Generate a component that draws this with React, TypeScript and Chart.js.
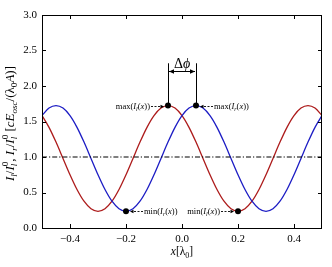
import React, { useEffect, useRef } from "react";
import { Chart, registerables } from "chart.js";

Chart.register(...registerables);

// ---- data ----
const positions = [
  -0.5, -0.475, -0.45, -0.425, -0.4, -0.375, -0.35, -0.325, -0.3, -0.275,
  -0.25, -0.225, -0.2, -0.175, -0.15, -0.125, -0.1, -0.075, -0.05, -0.025,
  0.0, 0.025, 0.05, 0.075, 0.1, 0.125, 0.15, 0.175, 0.2, 0.225,
  0.25, 0.275, 0.3, 0.325, 0.35, 0.375, 0.4, 0.425, 0.45, 0.475, 0.5,
];
const intensityL = [
  1.583, 1.418, 1.21, 0.98, 0.75, 0.542, 0.377, 0.271, 0.235, 0.271,
  0.377, 0.542, 0.75, 0.98, 1.21, 1.418, 1.583, 1.689, 1.725, 1.689,
  1.583, 1.418, 1.21, 0.98, 0.75, 0.542, 0.377, 0.271, 0.235, 0.271,
  0.377, 0.542, 0.75, 0.98, 1.21, 1.418, 1.583, 1.689, 1.725, 1.689, 1.583,
];
const intensityR = [
  1.583, 1.689, 1.725, 1.689, 1.583, 1.418, 1.21, 0.98, 0.75, 0.542,
  0.377, 0.271, 0.235, 0.271, 0.377, 0.542, 0.75, 0.98, 1.21, 1.418,
  1.583, 1.689, 1.725, 1.689, 1.583, 1.418, 1.21, 0.98, 0.75, 0.542,
  0.377, 0.271, 0.235, 0.271, 0.377, 0.542, 0.75, 0.98, 1.21, 1.418, 1.583,
];
const referenceLevel = 1.0;
const extremaX = [-0.05, 0.05, -0.2, 0.2];
const extremaY = [1.725, 1.725, 0.235, 0.235];
// which side each annotation label sits on: -1 left, +1 right
const extremaSide = [-1, 1, 1, -1];
const extremaLabelFn = ["max", "max", "min", "min"];
const extremaLabelSub = ["l", "r", "r", "l"];
const deltaPhiArrowY = 2.21;
const deltaPhiTopY = 2.32;
const xTicks = [-0.4, -0.2, 0.0, 0.2, 0.4];
const yTicks = [0.0, 0.5, 1.0, 1.5, 2.0, 2.5, 3.0];

const FONT = '"Liberation Serif", "DejaVu Serif", serif';
const RED = "#ad1b1b";
const BLUE = "#1c1cc4";

type Seg = { t: string; it?: boolean; pos?: "sub" | "sup"; stack?: [string, string] };

function fontOf(size: number, it?: boolean) {
  return `${it ? "italic " : ""}${size}px ${FONT}`;
}

function segWidth(ctx: CanvasRenderingContext2D, s: Seg, size: number) {
  if (s.stack) {
    ctx.font = fontOf(size * 0.7, true);
    const a = ctx.measureText(s.stack[0]).width;
    ctx.font = fontOf(size * 0.7, false);
    const b = ctx.measureText(s.stack[1]).width;
    return Math.max(a, b);
  }
  ctx.font = fontOf(s.pos ? size * 0.7 : size, s.it);
  return ctx.measureText(s.t).width;
}

function drawRich(
  ctx: CanvasRenderingContext2D,
  segs: Seg[],
  x: number,
  y: number,
  size: number,
  align: "left" | "center" | "right"
) {
  const widths = segs.map((s) => segWidth(ctx, s, size));
  const total = widths.reduce((a, b) => a + b, 0);
  let cx = align === "center" ? x - total / 2 : align === "right" ? x - total : x;
  ctx.save();
  ctx.textAlign = "left";
  ctx.textBaseline = "middle";
  ctx.fillStyle = "#000";
  segs.forEach((s, i) => {
    if (s.stack) {
      ctx.font = fontOf(size * 0.7, true);
      ctx.fillText(s.stack[0], cx, y + size * 0.3);
      ctx.font = fontOf(size * 0.7, false);
      ctx.fillText(s.stack[1], cx, y - size * 0.38);
    } else {
      ctx.font = fontOf(s.pos ? size * 0.7 : size, s.it);
      const dy = s.pos === "sub" ? size * 0.3 : s.pos === "sup" ? -size * 0.38 : 0;
      ctx.fillText(s.t, cx, y + dy);
    }
    cx += widths[i];
  });
  ctx.restore();
}

const yTitle: Seg[] = [
  { t: "I", it: true }, { t: "l", it: true, pos: "sub" }, { t: "/" },
  { t: "I", it: true }, { t: "", stack: ["l", "0"] }, { t: ", " },
  { t: "I", it: true }, { t: "r", it: true, pos: "sub" }, { t: "/" },
  { t: "I", it: true }, { t: "", stack: ["l", "0"] }, { t: " [" },
  { t: "cE", it: true }, { t: "osc", it: true, pos: "sub" }, { t: "/(λ" },
  { t: "0", pos: "sub" }, { t: "A", it: true }, { t: ")]" },
];
const xTitle: Seg[] = [{ t: "x", it: true }, { t: "[λ" }, { t: "0", pos: "sub" }, { t: "]" }];

function arrowHead(ctx: CanvasRenderingContext2D, x: number, y: number, dir: number, len: number, half: number) {
  ctx.beginPath();
  ctx.moveTo(x, y);
  ctx.lineTo(x - dir * len, y - half);
  ctx.lineTo(x - dir * len, y + half);
  ctx.closePath();
  ctx.fill();
}

const decorPlugin = {
  id: "decor",
  afterDraw(chart: any) {
    const ctx: CanvasRenderingContext2D = chart.ctx;
    const { left, right, top, bottom } = chart.chartArea;
    const xs = chart.scales.x;
    const ys = chart.scales.y;
    ctx.save();
    // frame
    ctx.strokeStyle = "#000";
    ctx.lineWidth = 1;
    ctx.strokeRect(Math.round(left) + 0.5, Math.round(top) + 0.5, Math.round(right - left) - 1, Math.round(bottom - top));
    // inward ticks
    const tl = 4;
    ctx.beginPath();
    xTicks.forEach((v) => {
      const px = Math.round(xs.getPixelForValue(v)) + 0.5;
      ctx.moveTo(px, bottom);
      ctx.lineTo(px, bottom - tl);
      ctx.moveTo(px, top);
      ctx.lineTo(px, top + tl);
    });
    yTicks.forEach((v) => {
      const py = Math.round(ys.getPixelForValue(v)) + 0.5;
      ctx.moveTo(left, py);
      ctx.lineTo(left + tl, py);
      ctx.moveTo(right, py);
      ctx.lineTo(right - tl, py);
    });
    ctx.stroke();

    // delta phi construction
    const p0 = xs.getPixelForValue(extremaX[0]);
    const p1 = xs.getPixelForValue(extremaX[1]);
    const pyMax = ys.getPixelForValue(extremaY[0]);
    const pyTop = ys.getPixelForValue(deltaPhiTopY);
    const pyArr = ys.getPixelForValue(deltaPhiArrowY);
    ctx.lineWidth = 1;
    ctx.beginPath();
    ctx.moveTo(Math.round(p0) + 0.5, pyMax);
    ctx.lineTo(Math.round(p0) + 0.5, pyTop);
    ctx.moveTo(Math.round(p1) + 0.5, pyMax);
    ctx.lineTo(Math.round(p1) + 0.5, pyTop);
    ctx.moveTo(p0 + 1, Math.round(pyArr) + 0.5);
    ctx.lineTo(p1 - 1, Math.round(pyArr) + 0.5);
    ctx.stroke();
    ctx.fillStyle = "#000";
    arrowHead(ctx, p0 + 1, Math.round(pyArr) + 0.5, -1, 5, 2.2);
    arrowHead(ctx, p1 - 1, Math.round(pyArr) + 0.5, 1, 5, 2.2);
    drawRich(ctx, [{ t: "Δ" }, { t: "ϕ", it: true }], (p0 + p1) / 2, pyTop + 1, 14, "center");

    // extrema annotations
    extremaX.forEach((xv, i) => {
      const px = xs.getPixelForValue(xv);
      const py = Math.round(ys.getPixelForValue(extremaY[i])) + 0.5;
      const side = extremaSide[i];
      const far = px + side * 17;
      const near = px + side * 4;
      ctx.save();
      ctx.setLineDash([2, 1.5]);
      ctx.lineWidth = 0.9;
      ctx.beginPath();
      ctx.moveTo(far, py);
      ctx.lineTo(near + side * 3, py);
      ctx.stroke();
      ctx.restore();
      arrowHead(ctx, near, py, -side, 3.5, 1.8);
      const segs: Seg[] = [
        { t: extremaLabelFn[i] + "(" },
        { t: "I", it: true },
        { t: extremaLabelSub[i], it: true, pos: "sub" },
        { t: "(" },
        { t: "x", it: true },
        { t: "))" },
      ];
      drawRich(ctx, segs, px + side * 18, py, 8.5, side < 0 ? "right" : "left");
    });

    // axis titles
    ctx.save();
    ctx.translate(11, (top + bottom) / 2 + 2);
    ctx.rotate(-Math.PI / 2);
    drawRich(ctx, yTitle, 0, 0, 13, "center");
    ctx.restore();
    drawRich(ctx, xTitle, (left + right) / 2, 252, 11.5, "center");
    ctx.restore();
  },
};

function fmt(v: number) {
  return v.toFixed(1).replace("-", "\u2212");
}

export default function App() {
  const ref = useRef<HTMLCanvasElement | null>(null);
  useEffect(() => {
    document.body.style.margin = "0";
    if (!ref.current) return;
    const lineL = positions.map((x, i) => ({ x, y: intensityL[i] }));
    const lineR = positions.map((x, i) => ({ x, y: intensityR[i] }));
    const marks = extremaX.map((x, i) => ({ x, y: extremaY[i] }));
    const level = [
      { x: positions[0], y: referenceLevel },
      { x: positions[positions.length - 1], y: referenceLevel },
    ];
    const chart = new Chart(ref.current, {
      type: "scatter",
      data: {
        datasets: [
          { data: marks, showLine: false, pointRadius: 3, pointBackgroundColor: "#000", pointBorderWidth: 0 },
          { data: level, showLine: true, borderColor: "#000", borderWidth: 1.2, borderDash: [5, 2, 1.2, 2], pointRadius: 0 },
          { data: lineR, showLine: true, borderColor: BLUE, borderWidth: 1.3, pointRadius: 0, cubicInterpolationMode: "monotone" },
          { data: lineL, showLine: true, borderColor: RED, borderWidth: 1.3, pointRadius: 0, cubicInterpolationMode: "monotone" },
        ] as any,
      },
      options: {
        responsive: false,
        animation: false,
        events: [],
        layout: { padding: { top: 15, right: 10, left: 0, bottom: 0 } },
        plugins: { legend: { display: false }, tooltip: { enabled: false } },
        scales: {
          x: {
            type: "linear",
            min: -0.5,
            max: 0.5,
            grid: { display: false, drawTicks: false },
            border: { display: false },
            afterBuildTicks: (s: any) => {
              s.ticks = xTicks.map((v) => ({ value: v }));
            },
            afterFit: (s: any) => {
              s.height = 39;
            },
            ticks: {
              padding: 5,
              color: "#000",
              font: { family: FONT, size: 11 },
              maxRotation: 0,
              callback: (v: any) => fmt(Number(v)),
            },
          },
          y: {
            type: "linear",
            min: 0,
            max: 3,
            grid: { display: false, drawTicks: false },
            border: { display: false },
            afterBuildTicks: (s: any) => {
              s.ticks = yTicks.map((v) => ({ value: v }));
            },
            afterFit: (s: any) => {
              s.width = 42;
            },
            ticks: {
              padding: 5,
              color: "#000",
              font: { family: FONT, size: 11 },
              callback: (v: any) => fmt(Number(v)),
            },
          },
        },
      } as any,
      plugins: [decorPlugin],
    });
    return () => chart.destroy();
  }, []);
  return (
    <div style={{ width: 332, height: 267 }}>
      <canvas ref={ref} width={332} height={267} style={{ display: "block" }} />
    </div>
  );
}
